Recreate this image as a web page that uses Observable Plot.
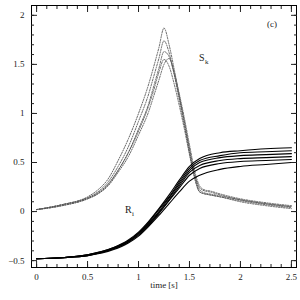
<!DOCTYPE html>
<html><head><meta charset="utf-8">
<script src="https://cdn.jsdelivr.net/npm/d3@7"></script>
<script src="https://cdn.jsdelivr.net/npm/@observablehq/plot@0.6"></script>
<style>body{margin:0;background:#fff}</style>
</head><body><div id="chart"></div>
<script>
const xTicks = [0, 0.5, 1, 1.5, 2, 2.5];
const yTicks = [-0.5, 0, 0.5, 1, 1.5, 2];

const sTime = [0, 0.25, 0.5, 0.6, 0.7, 0.8, 0.9, 1.0, 1.1, 1.15, 1.2, 1.25, 1.3, 1.35, 1.4, 1.45, 1.5, 1.55, 1.6, 1.65, 1.7, 1.8, 2.0, 2.25, 2.5];
const S1 = [0.02,0.07,0.15,0.22,0.33,0.52,0.74,1.0,1.3,1.48,1.67,1.87,1.7,1.45,1.18,0.92,0.64,0.38,0.22,0.19,0.18,0.16,0.12,0.08,0.05];
const S2 = [0.02,0.07,0.14,0.2,0.3,0.46,0.66,0.92,1.2,1.38,1.56,1.74,1.62,1.4,1.14,0.88,0.6,0.35,0.2,0.18,0.17,0.15,0.11,0.07,0.04];
const S3 = [0.02,0.07,0.14,0.19,0.28,0.42,0.6,0.84,1.1,1.28,1.46,1.63,1.58,1.4,1.16,0.9,0.62,0.38,0.24,0.21,0.2,0.17,0.12,0.08,0.05];
const S4 = [0.02,0.06,0.13,0.18,0.26,0.4,0.56,0.78,1.02,1.18,1.34,1.5,1.56,1.42,1.2,0.95,0.68,0.42,0.26,0.22,0.21,0.18,0.13,0.09,0.06];
const S5 = [0.02,0.06,0.13,0.18,0.27,0.42,0.6,0.82,1.08,1.24,1.42,1.55,1.48,1.3,1.08,0.84,0.58,0.34,0.2,0.18,0.17,0.15,0.1,0.06,0.03];

const rTime = [0, 0.25, 0.5, 0.75, 0.9, 1.0, 1.1, 1.2, 1.3, 1.4, 1.5, 1.6, 1.8, 2.0, 2.25, 2.5];
const R1 = [-0.48,-0.47,-0.44,-0.37,-0.29,-0.21,-0.1,0.03,0.17,0.32,0.46,0.54,0.6,0.62,0.64,0.65];
const R2 = [-0.48,-0.47,-0.44,-0.37,-0.3,-0.22,-0.11,0.02,0.15,0.3,0.44,0.52,0.57,0.6,0.61,0.62];
const R3 = [-0.48,-0.47,-0.44,-0.38,-0.3,-0.22,-0.12,0.0,0.14,0.28,0.42,0.5,0.55,0.57,0.58,0.59];
const R4 = [-0.48,-0.47,-0.45,-0.38,-0.31,-0.23,-0.13,-0.01,0.12,0.26,0.4,0.47,0.52,0.54,0.55,0.56];
const R5 = [-0.48,-0.47,-0.45,-0.38,-0.31,-0.24,-0.14,-0.02,0.11,0.24,0.37,0.44,0.49,0.51,0.52,0.53];
const R6 = [-0.48,-0.47,-0.45,-0.39,-0.32,-0.25,-0.15,-0.04,0.08,0.2,0.31,0.37,0.43,0.46,0.48,0.5];

const labels = [
  {text: "(c)", x: 2.31, y: 1.91, size: 9},
  {text: "S", x: 1.62, y: 1.57, size: 10},
  {text: "k", x: 1.67, y: 1.53, size: 7},
  {text: "R", x: 0.9, y: 0.02, size: 10},
  {text: "i", x: 0.945, y: -0.02, size: 7}
];

const long = (time, series) => series.flatMap((vals, i) => vals.map((v, j) => ({id: i, t: time[j], v})));
const sRows = long(sTime, [S1, S2, S3, S4, S5]);
const rRows = long(rTime, [R1, R2, R3, R4, R5, R6]);

const fmt = d => String(d).replace("-", "\u2212");
const xMinor = d3.range(0, 26).map(i => i / 10);
const yMinor = d3.range(-5, 21).map(i => i / 10);
const blank = () => "";

const chart = Plot.plot({
  width: 300, height: 300,
  marginLeft: 31, marginRight: 4, marginTop: 5, marginBottom: 33,
  x: {domain: [-0.05, 2.55]},
  y: {domain: [-0.57, 2.1]},
  style: {fontFamily: "'Liberation Serif','DejaVu Serif',serif", fontSize: "9px", background: "#fff", color: "#222"},
  marks: [
    Plot.line(sRows, {x: "t", y: "v", z: "id", stroke: "#555", strokeWidth: 0.9, strokeDasharray: "1.2,1.4", curve: "monotone-x"}),
    Plot.line(rRows, {x: "t", y: "v", z: "id", stroke: "#000", strokeWidth: 1.1, curve: "monotone-x"}),
    Plot.frame({stroke: "#000", strokeWidth: 1}),
    Plot.axisX(xTicks, {anchor: "bottom", tickSize: 0, tickPadding: 6, tickFormat: fmt, label: null}),
    Plot.axisY(yTicks, {anchor: "left", tickSize: 0, tickPadding: 7, tickFormat: fmt, label: null}),
    ...["bottom", "top"].map(a => Plot.axisX(xTicks, {anchor: a, tickSize: -6, tickFormat: blank, label: null})),
    ...["bottom", "top"].map(a => Plot.axisX(xMinor, {anchor: a, tickSize: -3, tickFormat: blank, label: null})),
    ...["left", "right"].map(a => Plot.axisY(yTicks, {anchor: a, tickSize: -6, tickFormat: blank, label: null})),
    ...["left", "right"].map(a => Plot.axisY(yMinor, {anchor: a, tickSize: -3, tickFormat: blank, label: null})),
    Plot.text(["time [s]"], {frameAnchor: "bottom", dy: 20, fontSize: 9}),
    Plot.text(labels, {x: "x", y: "y", text: "text", fontSize: d => d.size})
  ]
});
document.getElementById("chart").appendChild(chart);
</script>
</body></html>
